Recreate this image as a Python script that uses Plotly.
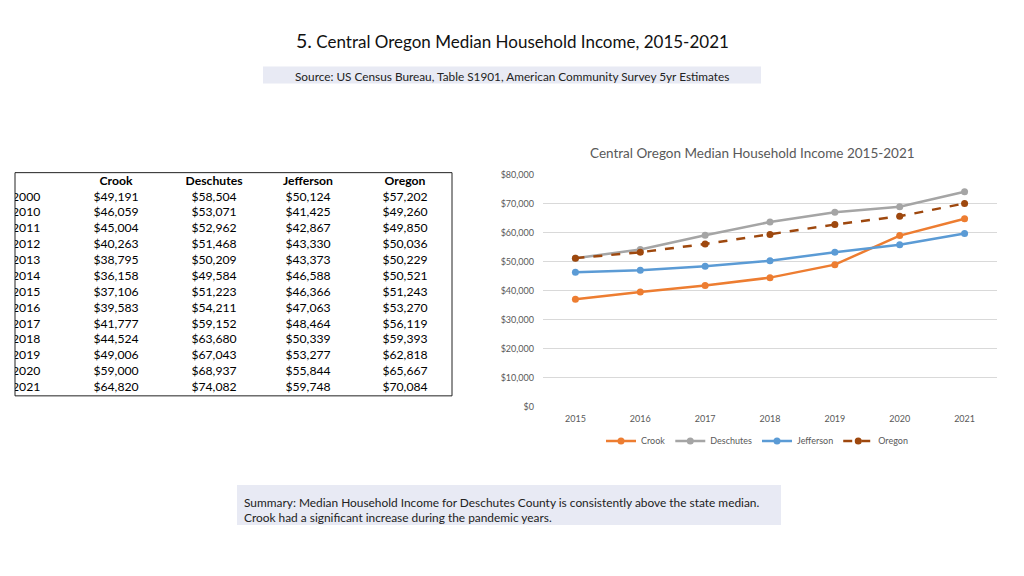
import plotly.graph_objects as go

# ---- data ----
table_years = ["2000", "2010", "2011", "2012", "2013", "2014", "2015", "2016",
               "2017", "2018", "2019", "2020", "2021"]
crook = [49191, 46059, 45004, 40263, 38795, 36158, 37106, 39583, 41777, 44524, 49006, 59000, 64820]
deschutes = [58504, 53071, 52962, 51468, 50209, 49584, 51223, 54211, 59152, 63680, 67043, 68937, 74082]
jefferson = [50124, 41425, 42867, 43330, 43373, 46588, 46366, 47063, 48464, 50339, 53277, 55844, 59748]
oregon = [57202, 49260, 49850, 50036, 50229, 50521, 51243, 53270, 56119, 59393, 62818, 65667, 70084]
series_names = ["Crook", "Deschutes", "Jefferson", "Oregon"]
chart_start = "2015"
y_ticks = [0, 10000, 20000, 30000, 40000, 50000, 60000, 70000, 80000]

W, H = 1024, 576
def px(x): return x / W
def py(y):
    # compensate small vertical offset/scale observed in the capture
    yc = (y - 5.5) / 0.98
    return 1 - yc / H

FONT = "Lato"
fig = go.Figure()

# ---- table (text marks on their own axes) ----
def money(v): return "${:,}".format(v)
col_centers = [116, 214, 308, 405]
all_series = (crook, deschutes, jefferson, oregon)
n_rows = len(table_years)

fig.add_trace(go.Scatter(
    x=col_centers, y=[0] * len(series_names), mode="text",
    text=["<b>%s</b>" % n for n in series_names], textposition="middle center",
    textfont=dict(family=FONT, size=12.2, color="black"),
    xaxis="x2", yaxis="y2", showlegend=False, hoverinfo="skip"))
fig.add_trace(go.Scatter(
    x=[12] * n_rows, y=list(range(1, n_rows + 1)), mode="text",
    text=table_years, textposition="middle right",
    textfont=dict(family=FONT, size=12.2, color="black"),
    xaxis="x2", yaxis="y2", showlegend=False, hoverinfo="skip"))
for cx, s in zip(col_centers, all_series):
    fig.add_trace(go.Scatter(
        x=[cx] * n_rows, y=list(range(1, n_rows + 1)), mode="text",
        text=[money(v) for v in s], textposition="middle center",
        textfont=dict(family=FONT, size=12.2, color="black"),
        xaxis="x2", yaxis="y2", showlegend=False, hoverinfo="skip"))

# ---- line chart ----
i0 = table_years.index(chart_start)
years = table_years[i0:]
styles = {
    "Crook": dict(color="#ED7D31", dash="solid"),
    "Deschutes": dict(color="#A5A5A5", dash="solid"),
    "Jefferson": dict(color="#5B9BD5", dash="solid"),
    "Oregon": dict(color="#9E480E", dash="dash"),
}
for name, vals in zip(series_names, all_series):
    st = styles[name]
    fig.add_trace(go.Scatter(
        x=years, y=vals[i0:], name=name, mode="lines+markers",
        line=dict(color=st["color"], width=2.5, dash=st["dash"]),
        marker=dict(color=st["color"], size=7),
        xaxis="x", yaxis="y",
    ))

hidden = dict(visible=False, showgrid=False, zeroline=False, fixedrange=True)
fig.update_layout(
    width=W, height=H, margin=dict(l=0, r=0, t=0, b=0),
    paper_bgcolor="white", plot_bgcolor="white",
    font=dict(family=FONT, color="#595959"),
    xaxis=dict(domain=[px(543), px(997)], type="category", range=[-0.5, 6.5],
               showgrid=False, showline=False, zeroline=False, ticks="",
               tickfont=dict(size=9, color="#595959"), ticklabelstandoff=5),
    yaxis=dict(domain=[py(406), py(174)], range=[0, 80000], tickvals=y_ticks,
               ticktext=["${:,}".format(v) for v in y_ticks],
               showgrid=True, gridcolor="#D9D9D9", gridwidth=1, zeroline=False,
               showline=False, ticks="", tickfont=dict(size=9, color="#595959"),
               ticklabelstandoff=8),
    xaxis2=dict(domain=[px(15), px(452)], range=[15, 452], anchor="y2", **hidden),
    yaxis2=dict(domain=[py(395), py(172)], range=[13.5, -0.57], anchor="x2", **hidden),
    legend=dict(orientation="h", x=px(757), xanchor="center", y=py(440), yanchor="middle",
                font=dict(size=9, color="#595959"), itemwidth=30,
                bgcolor="rgba(0,0,0,0)"),
    showlegend=True,
)

fig.add_annotation(text="Central Oregon Median Household Income 2015-2021",
                   x=px(752), y=py(152), xref="paper", yref="paper",
                   showarrow=False, font=dict(family=FONT, size=13.5, color="#595959"),
                   xanchor="center", yanchor="middle")

fig.add_annotation(text="<span style='font-size:19.5px'>5.</span> Central Oregon Median Household Income, 2015-2021",
                   x=px(512), y=py(40), xref="paper", yref="paper",
                   showarrow=False, font=dict(family=FONT, size=17, color="#111111"),
                   xanchor="center", yanchor="middle")

fig.add_shape(type="rect", xref="paper", yref="paper",
              x0=px(263), x1=px(761), y0=py(83), y1=py(66),
              fillcolor="#E8EAF4", line=dict(width=0), layer="below")
fig.add_annotation(text="Source: US Census Bureau, Table S1901, American Community Survey 5yr Estimates",
                   x=px(512), y=py(75.5), xref="paper", yref="paper", showarrow=False,
                   font=dict(family=FONT, size=11.8, color="#222222"),
                   xanchor="center", yanchor="middle")

fig.add_shape(type="rect", xref="paper", yref="paper",
              x0=px(15), x1=px(452), y0=py(395), y1=py(172),
              line=dict(color="#222222", width=1), fillcolor="rgba(0,0,0,0)")

fig.add_shape(type="rect", xref="paper", yref="paper",
              x0=px(237), x1=px(781), y0=py(524), y1=py(484),
              fillcolor="#E8EAF4", line=dict(width=0), layer="below")
fig.add_annotation(text="Summary: Median Household Income for Deschutes County is consistently above the state median.<br>Crook had a significant increase during the pandemic years.",
                   x=px(242), y=py(509), xref="paper", yref="paper", showarrow=False,
                   align="left", font=dict(family=FONT, size=11.9, color="#222222"),
                   xanchor="left", yanchor="middle")

post = ("document.documentElement.style.margin='0';"
        "document.documentElement.style.overflow='hidden';"
        "document.body.style.margin='0';document.body.style.overflow='hidden';"
        "var gd=document.getElementById('{plot_id}');"
        "gd.style.position='fixed';gd.style.top='0px';gd.style.left='0px';")
fig.write_html("out.html", post_script=post, config={"displayModeBar": False})
